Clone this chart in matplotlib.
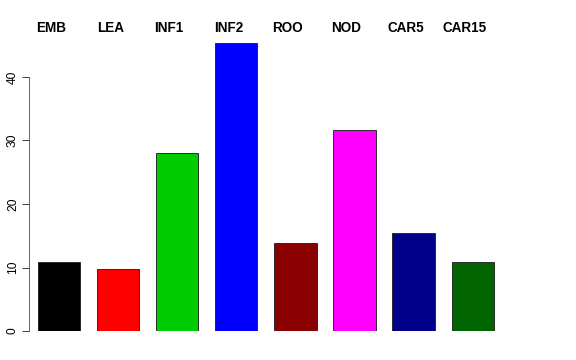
import matplotlib
matplotlib.use("Agg")
import matplotlib.pyplot as plt
import numpy as np

categories = ["EMB", "LEA", "INF1", "INF2", "ROO", "NOD", "CAR5", "CAR15"]
values = [10.9, 9.7, 28.0, 45.3, 13.9, 31.6, 15.5, 10.9]
colors = ["#000000", "#FF0000", "#00CD00", "#0000FF",
          "#8B0000", "#FF00FF", "#00008B", "#006400"]
yticks = [0, 10, 20, 30, 40]

plt.rcParams["font.family"] = ["Liberation Sans", "DejaVu Sans"]

W, H = 576, 360
fig = plt.figure(figsize=(W / 72, H / 72), dpi=72)

# axes placed in pixel terms to mimic the R plot region
left_px, right_px, top_px, bottom_px = 29, 560, 20, 331
ax = fig.add_axes([left_px / W, 1 - bottom_px / H,
                   (right_px - left_px) / W, (bottom_px - top_px) / H])

# R-style barplot positions: width 1, space 0.4
x = 0.4 + np.arange(len(categories)) * 1.4 + 0.5
ax.bar(x, values, width=1.0, color=colors, edgecolor="#222222", linewidth=0.9)

px_per_x = 42.2
px_per_y = 6.35
ax.set_xlim(0.4 - (38 - left_px) / px_per_x, 0.4 + (right_px - 38) / px_per_x)
ax.set_ylim(0, (bottom_px - top_px) / px_per_y)

for s in ["top", "right", "bottom"]:
    ax.spines[s].set_visible(False)
ax.spines["left"].set_bounds(0, 40)
ax.spines["left"].set_color("#444444")
ax.set_xticks([])
ax.set_yticks(yticks)
ax.set_yticklabels([str(t) for t in yticks], rotation=90, va="center", fontsize=12)
ax.tick_params(axis="y", length=7, width=1, color="#444444", pad=3)

# category labels across the top
label_y = (bottom_px - 28.5) / px_per_y
for xi, name in zip(x, categories):
    ax.text(xi - 0.19, label_y, name, ha="center", va="center",
            fontsize=13.5, fontweight="bold", clip_on=False)

fig.savefig("out.png", dpi=72)
